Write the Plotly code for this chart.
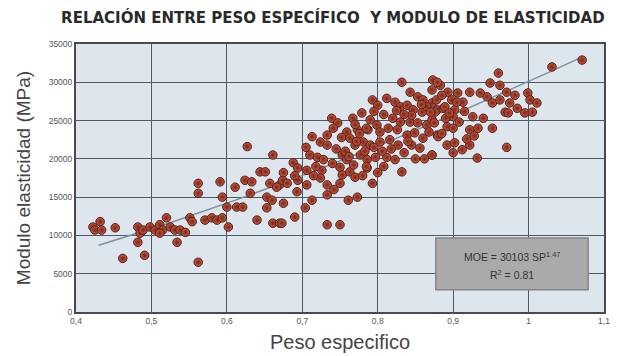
import numpy as np
import plotly.graph_objects as go

# Specific gravity (peso específico) and modulus of elasticity (MPa) samples
peso = [
    0.4225, 0.432, 0.425, 0.434, 0.452, 0.462, 0.482, 0.485, 0.482, 0.491,
    0.489, 0.498, 0.505, 0.511, 0.515, 0.511, 0.52, 0.525, 0.531, 0.534,
    0.538, 0.545, 0.551, 0.554, 0.562, 0.562, 0.562, 0.571, 0.58, 0.587,
    0.591, 0.594, 0.594, 0.602, 0.60, 0.611, 0.613, 0.621, 0.624, 0.627,
    0.631, 0.633, 0.64, 0.644, 0.651, 0.653, 0.653, 0.66, 0.661, 0.661,
    0.67, 0.67, 0.674, 0.657, 0.666,
    0.832, 0.873, 0.883, 0.843, 0.853, 0.86, 0.872, 0.793, 0.80, 0.812,
    0.823, 0.83, 0.839, 0.847, 0.859, 0.865, 0.879, 0.887, 0.739, 0.747,
    0.767, 0.779, 0.79, 0.799, 0.82, 0.83, 0.843, 0.853, 0.865, 0.892,
    0.741, 0.759, 0.773, 0.787, 0.803, 0.814, 0.826, 0.839, 0.849, 0.86,
    0.879, 0.713, 0.724, 0.733, 0.733, 0.763, 0.77, 0.781, 0.79, 0.803,
    0.816, 0.827, 0.845, 0.856, 0.872, 0.71, 0.72, 0.728, 0.753, 0.759,
    0.777, 0.786, 0.797, 0.812, 0.823, 0.688, 0.694, 0.706, 0.726, 0.75,
    0.753, 0.763, 0.77, 0.786, 0.832, 0.675, 0.68, 0.694, 0.706, 0.724,
    0.733, 0.75, 0.793, 0.675, 0.693, 0.704, 0.713, 0.733, 0.761, 0.773,
    0.69, 0.673, 0.733, 0.75,
    1.071, 1.031, 0.96, 0.949, 0.962, 0.879, 0.872, 0.893, 0.906, 0.922,
    0.936, 0.945, 0.971, 0.982, 0.999, 0.898, 0.913, 0.952, 0.962, 0.975,
    1.002, 1.011, 0.889, 0.902, 0.876, 0.969, 0.985, 0.973, 0.995, 1.005,
    0.90, 0.926, 0.94, 0.872, 0.90, 0.922, 0.933, 0.952, 0.88, 0.892,
    0.902, 0.912, 0.922, 0.90, 0.971, 0.932, 0.872,
    0.757, 0.762, 0.768, 0.772, 0.776, 0.783, 0.785, 0.795, 0.806, 0.808,
    0.818, 0.835, 0.84, 0.85, 0.862, 0.868, 0.875, 0.878, 0.885, 0.89,
    0.895, 0.905, 0.908, 0.915, 0.918, 0.928, 0.885, 0.87, 0.858, 0.845,
    0.835, 0.825, 0.808, 0.795, 0.785, 0.77, 0.752, 0.745, 0.74, 0.718,
    0.705, 0.69, 0.715, 0.742, 0.78, 0.80,
]
moe = [
    11100, 11800, 10700, 10700, 11000, 7000, 11100, 10300, 9100, 7400,
    10700, 11100, 10700, 11400, 10700, 10300, 12300, 11100, 10700, 9100,
    10700, 10400, 12300, 11800, 6500, 16800, 15500, 12000, 12300, 12000,
    17000, 15000, 12300, 11100, 13700, 16300, 13700, 13700, 17200, 21600,
    15500, 17000, 12000, 18300, 18300, 15000, 13600, 14600, 20500, 11600,
    11600, 16600, 17200, 16800, 16300,
    30000, 30300, 29600, 28700, 28100, 27700, 27300, 27700, 27000, 27900,
    27400, 26800, 27000, 26400, 26100, 26800, 26400, 26600, 25300, 24700,
    25300, 26000, 25100, 24400, 25300, 24800, 24800, 24700, 24400, 24200,
    24000, 23500, 23800, 23800, 23500, 24000, 23800, 23100, 23400, 22700,
    23100, 22900, 22200, 23100, 21800, 22700, 21800, 22200, 21800, 22200,
    22500, 21800, 21800, 21400, 20500, 20500, 20200, 19900, 20500, 19900,
    20500, 19900, 20200, 20200, 19900, 19500, 18800, 18500, 18500, 18900,
    17900, 18300, 17600, 18800, 18300, 18200, 16800, 17200, 16600, 17500,
    16600, 16800, 16800, 14200, 15700, 13600, 14600, 15300, 14600, 15000,
    12400, 11600, 11400, 11400,
    32900, 32000, 31200, 29900, 29600, 30000, 29000, 28700, 28600, 28700,
    28600, 28100, 28700, 28300, 28600, 27700, 27400, 27300, 27700, 27300,
    27700, 27300, 26800, 26400, 26100, 26100, 26600, 26000, 26000, 26100,
    25500, 25500, 25300, 25100, 24000, 23800, 24000, 24000, 22900, 21800,
    22100, 21200, 21800, 20800, 21500, 20100, 20500,
    21000, 20300, 19200, 22300, 23300, 21000, 19000, 21500, 21000, 19000,
    21300, 20800, 22300, 20000, 20000, 23500, 24700, 27700, 28300, 25300,
    26000, 27400, 24800, 26200, 22600, 23000, 23300, 26100, 27100, 25700,
    25800, 26300, 25800, 26200, 24000, 24500, 22800, 21300, 19400, 19000,
    21500, 17800, 17800, 16000, 17800, 18200,
]

# Power-law fit shown in the box
coef_a = 30103
coef_b = 1.47
r2 = 0.81
fit_x = np.linspace(0.43, 1.07, 60)
fit_y = coef_a * fit_x ** coef_b

x_ticks = [0.4, 0.5, 0.6, 0.7, 0.8, 0.9, 1.0, 1.1]
x_labels = ["0,4", "0,5", "0,6", "0,7", "0,8", "0,9", "1", "1,1"]
y_ticks = [0, 5000, 10000, 15000, 20000, 25000, 30000, 35000]
y_labels = ["0", "5000", "10000", "15000", "20000", "25000", "30000", "35000"]

fig = go.Figure()

fig.add_trace(go.Scatter(
    x=fit_x, y=fit_y, mode="lines",
    line=dict(color="#7f909c", width=1.5),
    hoverinfo="skip", showlegend=False,
))

fig.add_trace(go.Scatter(
    x=peso, y=moe, mode="markers",
    marker=dict(
        size=8.5, color="#c85a42",
        gradient=dict(type="radial", color="#7a2418"),
        line=dict(color="#4e1e18", width=1),
    ),
    showlegend=False,
))

# Equation box
fig.add_shape(type="rect", xref="x", yref="y",
              x0=0.877, x1=1.079, y0=2900, y1=9650,
              fillcolor="#aaaaaa", line=dict(color="#858585", width=1.5),
              layer="above")
fig.add_annotation(x=0.978, y=7300, xref="x", yref="y",
                   text=f"MOE = {coef_a} SP<sup>{coef_b}</sup>",
                   showarrow=False, font=dict(family="Liberation Sans", size=10.5, color="#333333"))
fig.add_annotation(x=0.978, y=4900, xref="x", yref="y",
                   text=f"R<sup>2</sup> = {r2}",
                   showarrow=False, font=dict(family="Liberation Sans", size=10.5, color="#333333"))

fig.update_layout(
    width=628, height=356,
    margin=dict(l=76, r=24, t=44, b=44),
    paper_bgcolor="white",
    plot_bgcolor="#dde6ec",
    title=dict(
        text="<b>RELACIÓN ENTRE PESO ESPECÍFICO  Y MODULO DE ELASTICIDAD</b>",
        x=0.53, xanchor="center", y=0.95, yanchor="middle",
        font=dict(family="DejaVu Sans", size=15, color="#2a2a2a"),
    ),
    xaxis=dict(
        range=[0.4, 1.1], tickvals=x_ticks, ticktext=x_labels, automargin=False,
        showgrid=True, gridcolor="#4f5b64", gridwidth=1.2,
        zeroline=False, showline=True, linecolor="#4a4a4a", linewidth=2, mirror=True,
        tickfont=dict(family="Liberation Sans", size=8.5, color="#555555"),
        title=dict(text="Peso especifico", standoff=10,
                   font=dict(family="Liberation Sans", size=20, color="#444444")),
    ),
    yaxis=dict(
        range=[0, 35000], tickvals=y_ticks, ticktext=y_labels, automargin=False,
        showgrid=True, gridcolor="#4f5b64", gridwidth=1.2,
        zeroline=False, showline=True, linecolor="#4a4a4a", linewidth=2, mirror=True,
        tickfont=dict(family="Liberation Sans", size=8.5, color="#555555"),
        title=dict(text="Modulo elasticidad (MPa)", standoff=13,
                   font=dict(family="Liberation Sans", size=19, color="#444444")),
    ),
)

fig.write_html("out.html")
